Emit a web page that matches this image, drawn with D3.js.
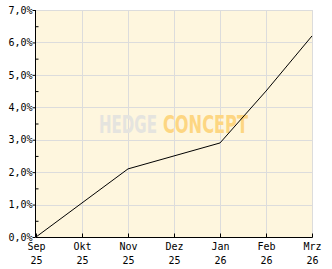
<!DOCTYPE html>
<html lang="de">
<head>
<meta charset="UTF-8">
<title>Chart</title>
<script src="https://unpkg.com/d3@7.8.5/dist/d3.min.js"></script>
<style>
    * { margin: 0; padding: 0; }
    body { background: #fff; }
    svg { display: block; }
</style>
</head>
<body>
<svg id="chart" width="332" height="269"></svg>
<script>
    // Monate und Werte
    const months = ['Sep', 'Okt', 'Nov', 'Dez', 'Jan', 'Feb', 'Mrz']
    const years = ['25', '25', '25', '25', '26', '26', '26']
    const values = [0, 1.05, 2.1, 2.5, 2.9, 4.5, 6.2]
    const yTicks = [0, 1, 2, 3, 4, 5, 6, 7]

    const pLeft = 36, pRight = 312, pTop = 10, pBottom = 237
    const svg = d3.select('#chart')

    const x = d3.scalePoint().domain(months).range([pLeft, pRight])
    const y = d3.scaleLinear().domain([0, 7]).range([pBottom, pTop])

    // Hintergrund
    svg.append('rect')
        .attr('x', pLeft).attr('y', pTop)
        .attr('width', pRight - pLeft).attr('height', pBottom - pTop)
        .attr('fill', '#fef6de')

    // Gitter
    svg.append('g').selectAll('line').data(yTicks.slice(1)).join('line')
        .attr('x1', pLeft).attr('x2', pRight)
        .attr('y1', d => Math.round(y(d)) + 0.5).attr('y2', d => Math.round(y(d)) + 0.5)
        .attr('stroke', '#dcdcdc')
    svg.append('g').selectAll('line').data(months.slice(1)).join('line')
        .attr('x1', d => Math.round(x(d)) + 0.5).attr('x2', d => Math.round(x(d)) + 0.5)
        .attr('y1', pTop).attr('y2', pBottom)
        .attr('stroke', '#dcdcdc')

    // Wasserzeichen (Breite per Skalierung angepasst)
    const wmFont = '"Liberation Sans Narrow", "DejaVu Sans Condensed", sans-serif'
    function watermark(str, x0, w, color) {
        const t = svg.append('text')
            .attr('font-family', wmFont).attr('font-weight', 'bold').attr('font-size', 25)
            .attr('fill', color)
            .text(str)
        const natural = t.node().getComputedTextLength()
        t.attr('transform', `translate(${x0},133) scale(${w / natural},1)`)
    }
    watermark('HEDGE', 99, 58, '#e5e4df')
    watermark('CONCEPT', 163, 85, '#fdd682')

    // Linie
    svg.append('path')
        .datum(values)
        .attr('fill', 'none')
        .attr('stroke', '#000')
        .attr('stroke-width', 1)
        .attr('d', d3.line().x((d, i) => x(months[i])).y(d => y(d)))

    // Y-Achse
    const yAxis = d3.axisLeft(y)
        .tickValues(d3.range(0, 7.01, 0.5))
        .tickSize(-3)
        .tickFormat(d => Number.isInteger(d) ? d.toFixed(1).replace('.', ',') + '%' : '')
    const gy = svg.append('g').attr('transform', `translate(${pLeft - 0.5},0)`).call(yAxis)
    gy.select('.domain').attr('d', `M0,${pTop}V${pBottom + 0.5}`)
    gy.selectAll('text')
        .attr('x', -3)
        .attr('font-family', '"DejaVu Sans Mono", monospace')
        .attr('font-size', 10)
        .attr('fill', '#000')
    gy.selectAll('.tick').filter(d => Number.isInteger(d)).select('line').attr('x2', -3)

    // X-Achse
    const xAxis = d3.axisBottom(x).tickSize(-4).tickFormat('')
    const gx = svg.append('g').attr('transform', `translate(0,${pBottom + 0.5})`).call(xAxis)
    gx.select('.domain').attr('d', `M${pLeft},0H${pRight + 0.5}`)
    gx.selectAll('.tick').append('text')
        .attr('fill', '#000')
        .attr('font-family', '"DejaVu Sans Mono", monospace')
        .attr('font-size', 10)
        .attr('text-anchor', 'middle')
        .selectAll('tspan').data((d, i) => [months[i], years[i]]).join('tspan')
        .attr('x', 0)
        .attr('y', (d, i) => 12 + i * 14)
        .text(d => d)
</script>
</body>
</html>
